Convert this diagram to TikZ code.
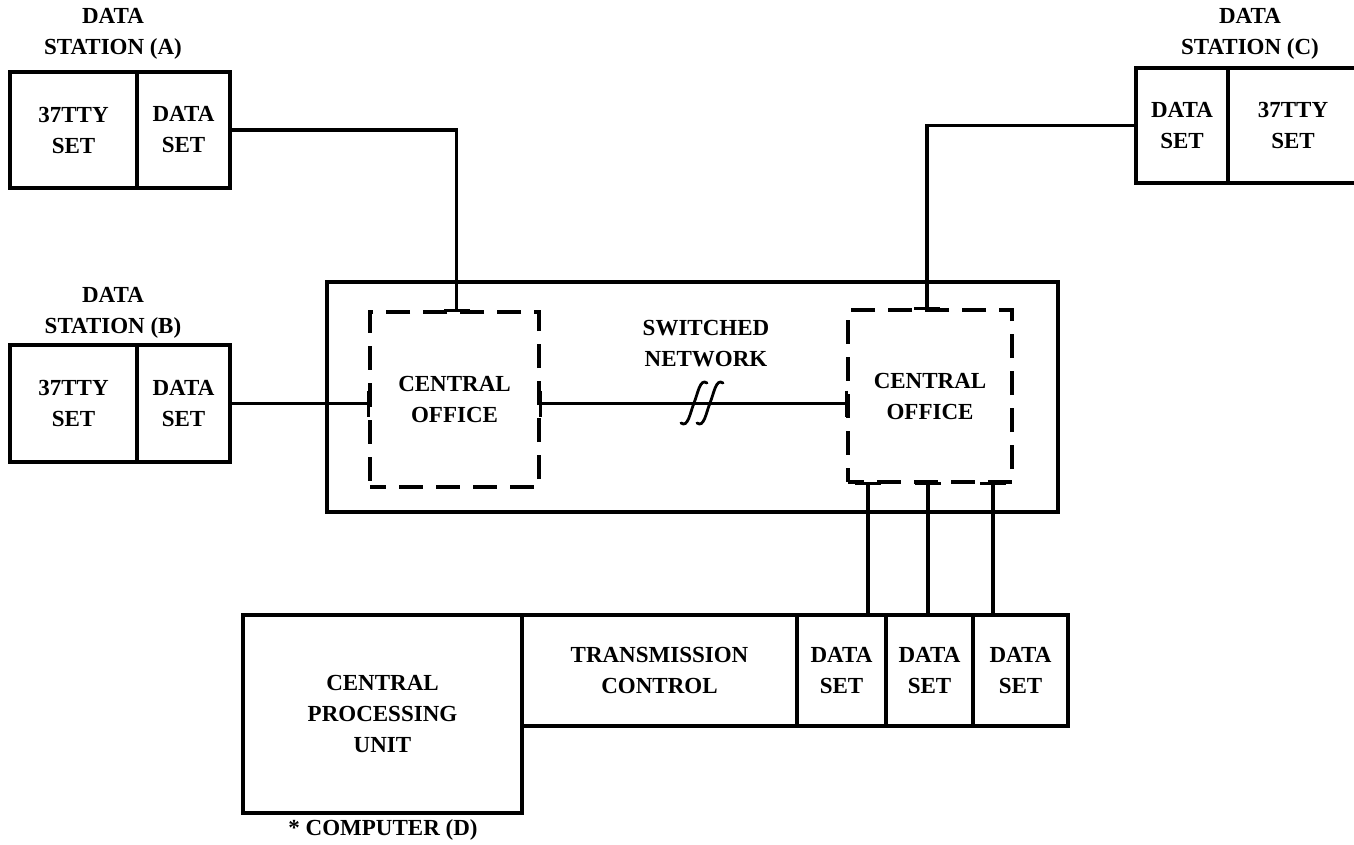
\documentclass[tikz,border=0pt]{standalone}
\usepackage{fontspec}
\setmainfont{Liberation Serif}
\usetikzlibrary{arrows.meta}

\begin{document}
\begin{tikzpicture}[x=1pt,y=-1pt,
	every node/.style={font=\bfseries\fontsize{23}{31}\selectfont, align=center},
	box/.style={draw, line width=3.2pt, inner sep=0pt, outer sep=0pt},
	office/.style={draw, line width=3.2pt, dash pattern=on 24pt off 13pt, dash phase=8pt, inner sep=0pt, outer sep=0pt},
	link/.style={line width=3.2pt},
	tee/.style={link, -{Bar[width=26pt]}},
	curl/.style={line width=2.8pt, line cap=round}]
		
		\useasboundingbox (0,0) rectangle (1354,845);
		
		% data stations
		\node[box, minimum width=127pt, minimum height=116pt] (Atty) at (73.5,130) {37TTY\\SET};
		\node[box, minimum width=93pt, minimum height=116pt] (Aset) at (183.5,130) {DATA\\SET};
		\node (labA) at (113,34) {DATA\\STATION (A)};
		
		\node[box, minimum width=127pt, minimum height=117pt] (Btty) at (73.5,403.5) {37TTY\\SET};
		\node[box, minimum width=93pt, minimum height=117pt] (Bset) at (183.5,403.5) {DATA\\SET};
		\node (labB) at (113,313) {DATA\\STATION (B)};
		
		\node[box, minimum width=92pt, minimum height=115pt] (Cset) at (1182,125.5) {DATA\\SET};
		\node[box, minimum width=130pt, minimum height=115pt] (Ctty) at (1293,125.5) {37TTY\\SET};
		\node (labC) at (1250,34) {DATA\\STATION (C)};
		
		% switched network
		\node[box, minimum width=731pt, minimum height=230pt] (net) at (692.5,397) {};
		\node (swn) at (706,344) {SWITCHED\\NETWORK};
		\node[office, minimum width=169pt, minimum height=175pt] (coL) at (454.5,399.5) {CENTRAL\\OFFICE};
		\node[office, minimum width=164pt, minimum height=172pt] (coR) at (930,396) {CENTRAL\\OFFICE};
		
		% computer
		\node[box, minimum width=279pt, minimum height=198pt] (cpu) at (382.5,714) {CENTRAL\\PROCESSING\\UNIT};
		\node[box, minimum width=275pt, minimum height=111pt] (tc) at (659.5,670.5) {TRANSMISSION\\CONTROL};
		\node[box, minimum width=89pt, minimum height=111pt] (ds1) at (841.5,670.5) {DATA\\SET};
		\node[box, minimum width=87pt, minimum height=111pt] (ds2) at (929.5,670.5) {DATA\\SET};
		\node[box, minimum width=95pt, minimum height=111pt] (ds3) at (1020.5,670.5) {DATA\\SET};
		\node (labD) at (383,830) {* COMPUTER (D)};
		
		\draw[tee] (Aset.east) -| ([xshift=2pt]coL.north);
		\draw[tee] (Bset.east) -- (Bset.east -| coL.west);
		\draw[tee] (Cset.west) -| ([xshift=-3pt]coR.north);
		\draw[link, {Bar[width=26pt]}-{Bar[width=26pt]}] (coL.east |- Bset.east) -- (coR.west |- Bset.east);
		\draw[link, {Bar[width=26pt]}-] ([xshift=-62pt]coR.south) -- ([xshift=-62pt]coR.south |- ds1.north);
		\draw[link, {Bar[width=26pt]}-] ([xshift=-2pt]coR.south) -- ([xshift=-2pt]coR.south |- ds2.north);
		\draw[link, {Bar[width=26pt]}-] ([xshift=63pt]coR.south) -- ([xshift=63pt]coR.south |- ds3.north);
		
		\coordinate (brk) at (702,403);
		\draw[curl] ([xshift=-8pt]brk) ++(-13,20) .. controls +(7,5) and +(-4,10) .. ++(13,-20) .. controls +(4,-10) and +(-7,-5) .. ++(13,-20);
		\draw[curl] ([xshift=8pt]brk) ++(-13,20) .. controls +(7,5) and +(-4,10) .. ++(13,-20) .. controls +(4,-10) and +(-7,-5) .. ++(13,-20);
		
	\end{tikzpicture}
\end{document}
